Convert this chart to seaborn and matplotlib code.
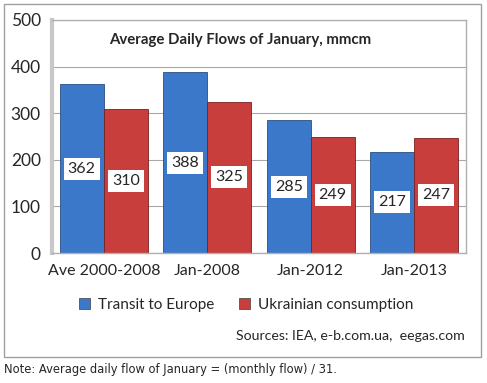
import pandas as pd
import seaborn as sns
import matplotlib.pyplot as plt
from matplotlib.patches import Rectangle

# Dữ liệu
categories = ['Ave 2000-2008', 'Jan-2008', 'Jan-2012', 'Jan-2013']
transit = [362, 388, 285, 217]
consumption = [310, 325, 249, 247]
series_names = ['Transit to Europe', 'Ukrainian consumption']
yticks = [0, 100, 200, 300, 400, 500]

df = pd.DataFrame({
    'period': categories * 2,
    'value': transit + consumption,
    'series': [series_names[0]] * 4 + [series_names[1]] * 4,
})

sns.set_style('white')
plt.rcParams['font.family'] = ['Lato', 'DejaVu Sans']

fig = plt.figure(figsize=(4.87, 3.83), dpi=100)
# khung ngoài
fig.patches.append(Rectangle((4 / 487, 1 - 357 / 383), 477 / 487, 353 / 383,
                             transform=fig.transFigure, fill=False,
                             edgecolor='#a0a0a0', linewidth=1))

ax = fig.add_axes([52 / 487, 1 - 253 / 383, 414 / 487, 233 / 383])
palette = {series_names[0]: '#3b78c9', series_names[1]: '#c83e3c'}
sns.barplot(data=df, x='period', y='value', hue='series', palette=palette,
            width=0.85, saturation=1, edgecolor='#2a4f80', linewidth=0.6,
            ax=ax, legend=False)
for bar in ax.patches[4:8]:
    bar.set_edgecolor('#7a2020')

ax.set_ylim(0, 500)
ax.set_yticks(yticks)
ax.yaxis.grid(True, color='#a8a8a8', linewidth=0.8)
ax.set_axisbelow(True)
ax.set_xlabel('')
ax.set_ylabel('')
ax.tick_params(axis='y', labelsize=12.5, length=0, pad=8)
ax.tick_params(axis='x', labelsize=11.5, length=0, pad=8)
for s in ax.spines.values():
    s.set_color('#b0b0b0')
    s.set_linewidth(1)
ax.spines['left'].set_linewidth(3)
ax.spines['left'].set_color('#c8c8c8')

# nhãn giá trị
for bar in ax.patches[:8]:
    h = bar.get_height()
    ax.text(bar.get_x() + bar.get_width() / 2, h / 2, f'{h:.0f}',
            ha='center', va='center', fontsize=11.5,
            bbox=dict(boxstyle='square,pad=0.25', facecolor='white', edgecolor='none'))

ax.text(0.455, 0.915, 'Average Daily Flows of January, mmcm', transform=ax.transAxes,
        ha='center', va='center', fontsize=10.8, fontweight='bold')

# chú giải
handles = [Rectangle((0, 0), 1, 1, facecolor=palette[n], edgecolor='#404040', linewidth=0.5)
           for n in series_names]
fig.legend(handles, series_names, loc='center', bbox_to_anchor=(246 / 487, 1 - 305 / 383),
           ncol=2, frameon=False, fontsize=11, handlelength=0.75, handleheight=0.75,
           handletextpad=0.5, columnspacing=1.6)

fig.text(465 / 487, 1 - 336 / 383, 'Sources: IEA, e-b.com.ua,  eegas.com',
         ha='right', va='center', fontsize=10.2)
fig.text(4 / 487, 1 - 370 / 383, 'Note: Average daily flow of January = (monthly flow) / 31.',
         ha='left', va='center', fontsize=8.3, family='DejaVu Sans')

fig.savefig('out.png', dpi=100)
